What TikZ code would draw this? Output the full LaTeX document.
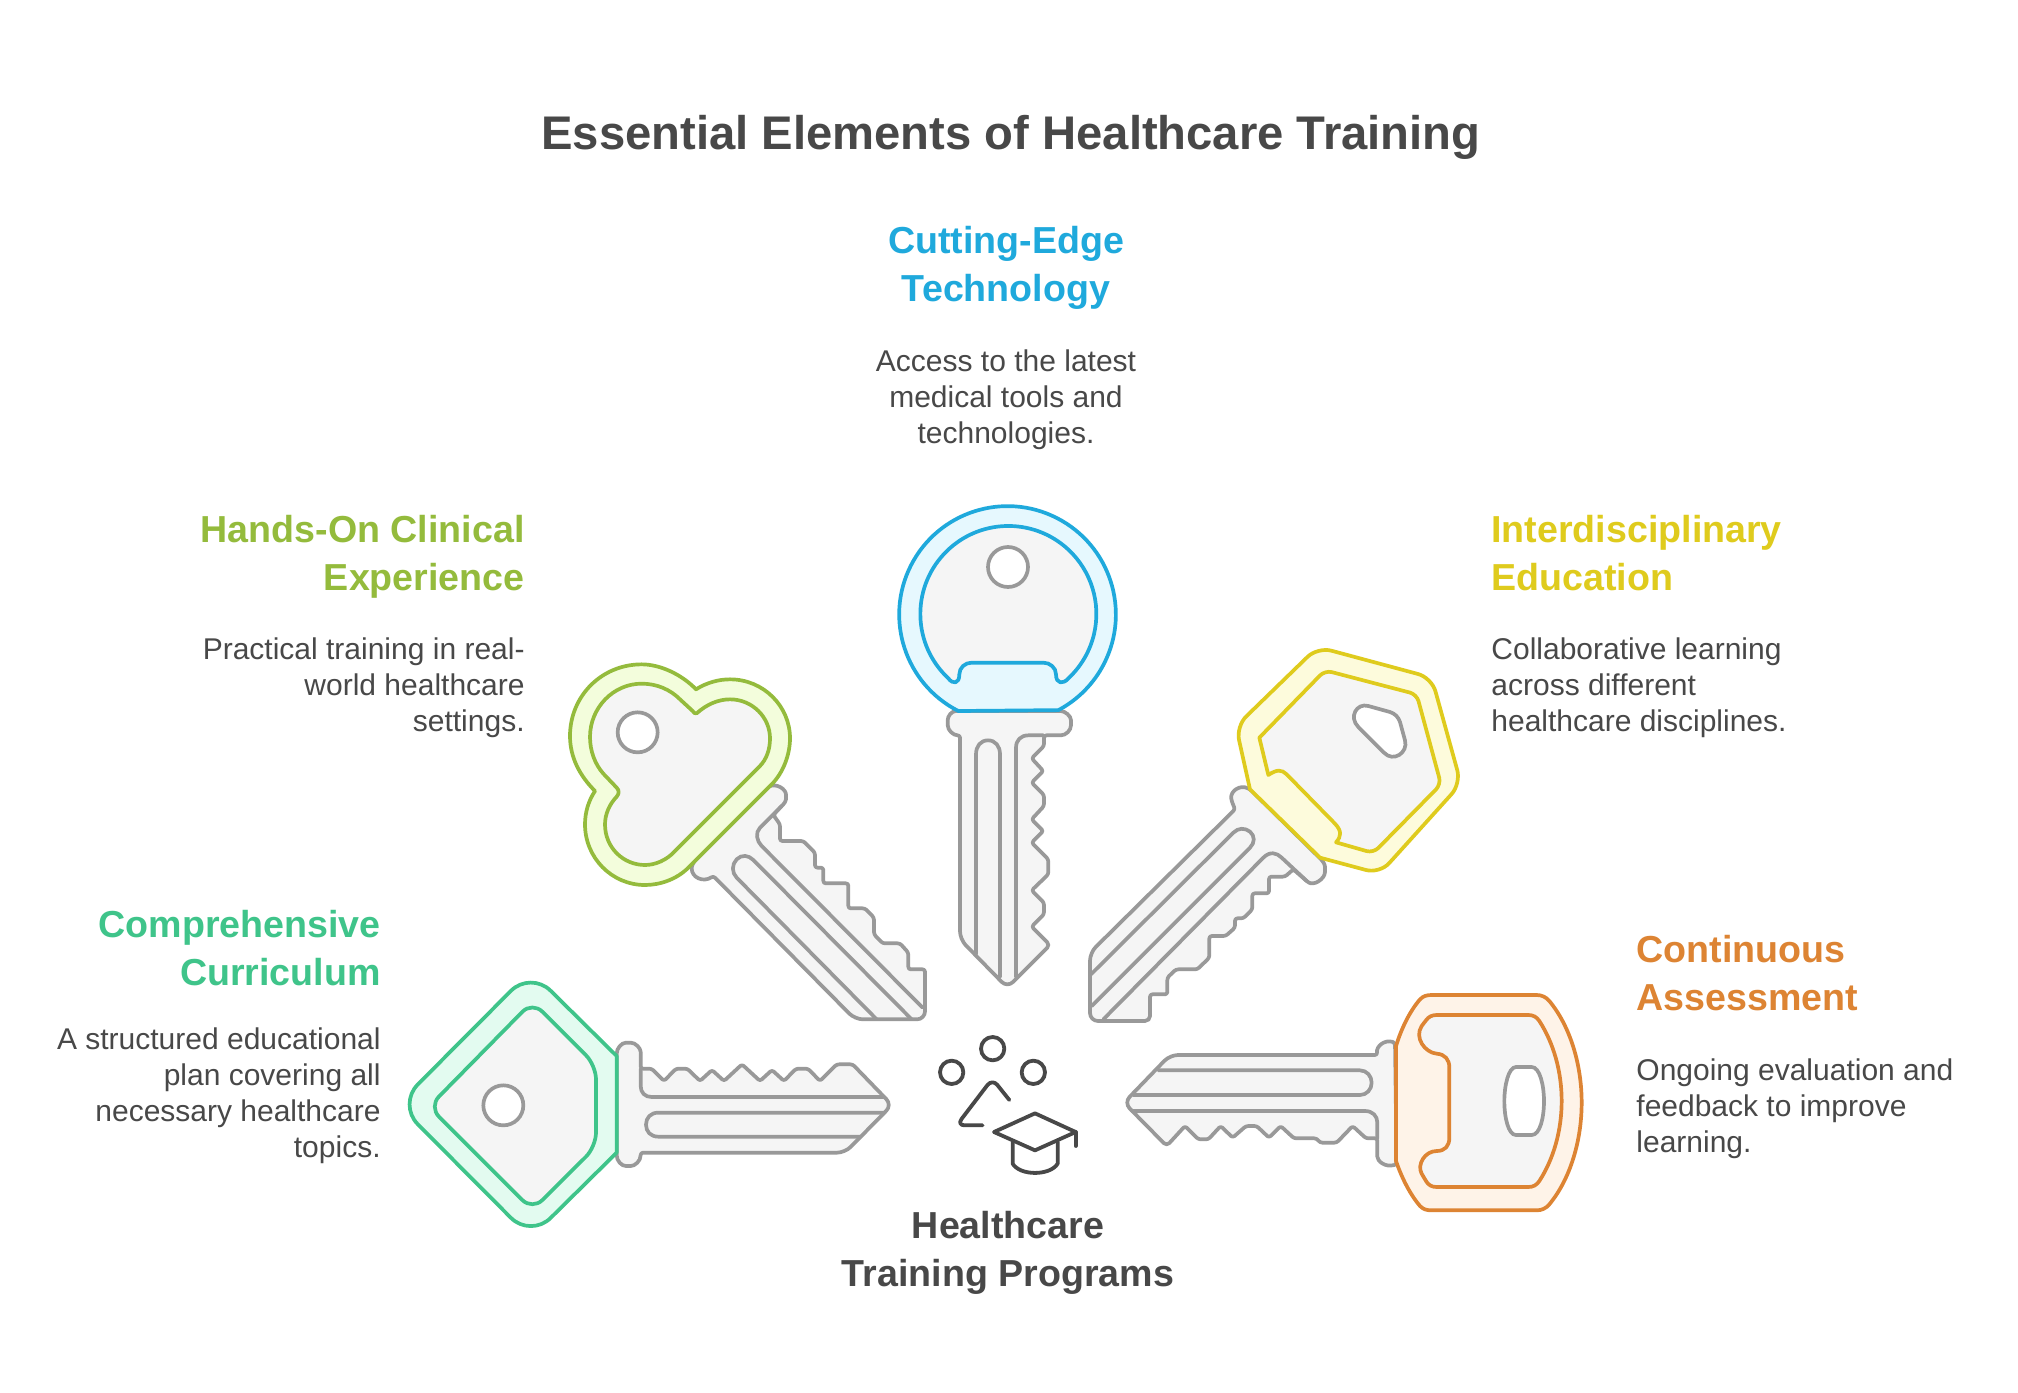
\documentclass[tikz,border=0pt]{standalone}
\usepackage{fontspec}
\setmainfont{Liberation Sans}
\usepackage{xcolor}
\definecolor{inktext}{HTML}{484848}
\definecolor{keygrey}{HTML}{999999}
\definecolor{keyfill}{HTML}{F5F5F5}
\definecolor{blueline}{HTML}{1FA9DC}
\definecolor{bluefill}{HTML}{E6F8FE}
\definecolor{greenline}{HTML}{3FC48A}
\definecolor{greenfill}{HTML}{E3FBF0}
\definecolor{limeline}{HTML}{94BB3C}
\definecolor{limefill}{HTML}{F3FDDC}
\definecolor{yellowline}{HTML}{DFCB1D}
\definecolor{yellowfill}{HTML}{FDFBDC}
\definecolor{orangeline}{HTML}{DD8433}
\definecolor{orangefill}{HTML}{FEF3E8}
\tikzset{
    blade/.style={draw=keygrey, fill=keyfill, line width=1.85pt, line join=round, rounded corners=1.2pt},
    groove/.style={draw=keygrey, line width=1.85pt, line join=round, line cap=round},
    keyhole/.style={draw=keygrey, fill=white, line width=1.85pt},
    headout/.style={draw=#1line, fill=#1fill, line width=1.85pt, line join=round},
    headin/.style={draw=#1line, fill=keyfill, line width=1.85pt, line join=round},
    icon/.style={draw=inktext, line width=1.9pt, line cap=round, line join=round},
    bigtext/.style={inner sep=0pt, text=inktext, font=\fontsize{23.6}{30}\selectfont\bfseries},
    heading/.style={inner sep=0pt, text=#1line, font=\fontsize{18.8}{24}\selectfont\bfseries},
    bodytext/.style={inner sep=0pt, text=inktext, font=\fontsize{15}{18}\selectfont}
}
\begin{document}
\begin{tikzpicture}[x=0.5pt, y=-0.5pt]
    \useasboundingbox (0, 0) rectangle (2018, 1392);
    \fill[white] (0, 0) rectangle (2018, 1392);

    \node[bigtext] (title) at (1011, 137) {Essential Elements of Healthcare Training};

    \node[heading=blue, align=center] (techhead) at (1006, 268) {Cutting-Edge\\Technology};
    \node[bodytext, align=center] (techbody) at (1006, 400) {Access to the latest\\medical tools and\\technologies.};

    \node[heading=lime, align=right, anchor=east] (handshead) at (525, 556.5) {Hands-On Clinical\\Experience};
    \node[bodytext, align=right, anchor=east] (handsbody) at (525, 688) {Practical training in real-\\world healthcare\\settings.};

    \node[heading=yellow, align=left, anchor=west] (interhead) at (1491, 553.5) {Interdisciplinary\\Education};
    \node[bodytext, align=left, anchor=west] (interbody) at (1491, 688) {Collaborative learning\\across different\\healthcare disciplines.};

    \node[heading=green, align=right, anchor=east] (currhead) at (381, 948.5) {Comprehensive\\Curriculum};
    \node[bodytext, align=right, anchor=east] (currbody) at (381, 1096) {A structured educational\\plan covering all\\necessary healthcare\\topics.};

    \node[heading=orange, align=left, anchor=west] (assesshead) at (1636, 973.5) {Continuous\\Assessment};
    \node[bodytext, align=left, anchor=west] (assessbody) at (1636, 1108.5) {Ongoing evaluation and\\feedback to improve\\learning.};

    \node[heading=blue, text=inktext, align=center] (centre) at (1008, 1253) {Healthcare\\Training Programs};

    % top key
    \begin{scope}[shift={(880, 491)}, scale=1/3]
        \draw[blade] (235, 660) .. controls (215, 660) and (203, 675) .. (203, 695) .. controls (203, 718) and (220, 733) .. (240, 733)
            [rounded corners=4pt] -- (240, 1345) [rounded corners=4pt] -- (382, 1490) [rounded corners=2pt] -- (510, 1362) [rounded corners=1.2pt] -- (455, 1307) -- (492, 1270) -- (492, 1235) -- (455, 1198)
            -- (505, 1150) -- (505, 1105) -- (455, 1055) -- (490, 1020) -- (455, 985) -- (492, 945) -- (492, 912)
            -- (455, 875) -- (490, 840) -- (455, 802) -- (492, 765) -- (492, 733) -- (535, 733)
            .. controls (558, 733) and (573, 718) .. (573, 695) .. controls (573, 675) and (555, 660) .. (535, 660) -- cycle;
        \draw[groove] (490, 733) -- (445, 733) .. controls (422, 733) and (408, 748) .. (408, 770) -- (408, 1458);
        \draw[groove] (288, 1390) -- (288, 790) .. controls (288, 765) and (302, 748) .. (324, 748) .. controls (346, 748) and (360, 765) .. (360, 790) -- (360, 1458);
        \draw[headout=blue] (235, 660) arc[start angle=117, end angle=422, radius=325] -- cycle;
        \draw[headin=blue] (205, 562) arc[start angle=133, end angle=407, radius=264]
            .. controls (550, 580) and (528, 580) .. (528, 550) .. controls (528, 530) and (510, 515) .. (490, 515)
            -- (275, 515) .. controls (255, 515) and (238, 530) .. (238, 550) .. controls (238, 580) and (218, 580) .. cycle;
        \draw[keyhole] (384, 228) circle[radius=60];
    \end{scope}

    % left key
    \begin{scope}[shift={(400, 971)}, scale=1/3]
        \draw[blade] (650, 255) .. controls (650, 232) and (665, 215) .. (685, 215) .. controls (707, 215) and (722, 232) .. (722, 250)
            -- (722, 293) -- (755, 293) -- (792, 330) -- (828, 293) -- (862, 293) -- (900, 330) -- (936, 297) -- (972, 330)
            -- (1026, 280) -- (1080, 330) -- (1116, 297) -- (1152, 330) -- (1188, 293) -- (1224, 293) -- (1260, 330)
            -- (1310, 280) -- (1358, 280) [rounded corners=4pt] -- (1476, 402) [rounded corners=4pt] -- (1335, 545) [rounded corners=1.2pt] -- (722, 545)
            .. controls (722, 570) and (705, 585) .. (685, 585) .. controls (665, 585) and (650, 570) .. (650, 545) -- cycle;
        \draw[groove] (722, 293) -- (722, 345) .. controls (722, 365) and (735, 378) .. (755, 378) -- (1450, 378);
        \draw[groove] (1455, 425) -- (775, 425) .. controls (752, 425) and (738, 440) .. (738, 461) .. controls (738, 482) and (752, 497) .. (775, 497) -- (1380, 497);
        \draw[headout=green] (650, 255) [rounded corners=14pt] -- (392, 0) -- (-6, 400) -- (392, 800) [sharp corners] -- (650, 545) -- cycle;
        \draw[headin=green, rounded corners=7pt] (397, 92) -- (87, 407) -- (397, 717) -- (588, 527) -- (588, 283) -- cycle;
        \draw[keyhole] (310, 403) circle[radius=60];
    \end{scope}

    % right key
    \begin{scope}[shift={(1120, 971)}, scale=1/3]
        \draw[blade] (825, 215) .. controls (795, 205) and (768, 225) .. (772, 252) [rounded corners=4pt] -- (150, 252) [rounded corners=4pt] -- (12, 395) [rounded corners=2pt] -- (140, 525) [rounded corners=1.2pt]
            -- (195, 465) -- (235, 505) -- (265, 505) -- (302, 465) -- (338, 500) -- (378, 465) -- (410, 465) -- (447, 500)
            -- (482, 465) -- (522, 502) -- (590, 502) -- (600, 515) -- (650, 515) -- (698, 465) -- (738, 502) -- (772, 502)
            -- (772, 550) .. controls (772, 570) and (795, 590) .. (830, 580) -- cycle;
        \draw[groove] (772, 502) -- (772, 455) .. controls (772, 435) and (758, 420) .. (735, 420) -- (35, 420);
        \draw[groove] (40, 372) -- (720, 372) .. controls (740, 372) and (755, 355) .. (755, 335) .. controls (755, 315) and (740, 298) .. (720, 298) -- (115, 298);
        \draw[headout=orange] (828, 225) .. controls (845, 170) and (870, 120) .. (900, 85) .. controls (910, 75) and (920, 72) .. (935, 72)
            -- (1250, 72) .. controls (1265, 72) and (1278, 78) .. (1288, 90) .. controls (1350, 165) and (1385, 280) .. (1385, 395)
            .. controls (1385, 510) and (1350, 625) .. (1288, 700) .. controls (1278, 712) and (1265, 718) .. (1250, 718)
            -- (935, 718) .. controls (920, 718) and (910, 715) .. (900, 705) .. controls (870, 670) and (845, 620) .. (828, 570) -- cycle;
        \draw[headin=orange] (950, 132) -- (1225, 132) .. controls (1240, 132) and (1250, 138) .. (1258, 150)
            .. controls (1300, 215) and (1325, 300) .. (1325, 390) .. controls (1325, 480) and (1300, 565) .. (1258, 630)
            .. controls (1250, 642) and (1240, 648) .. (1225, 648) -- (950, 648) .. controls (935, 648) and (925, 642) .. (918, 630)
            -- (905, 608) .. controls (890, 580) and (915, 540) .. (950, 540) .. controls (975, 540) and (988, 525) .. (988, 500)
            -- (988, 290) .. controls (988, 265) and (975, 250) .. (950, 248) .. controls (915, 245) and (882, 200) .. (905, 165)
            -- (918, 148) .. controls (925, 138) and (935, 132) .. cycle;
        \draw[keyhole] (1188, 288) -- (1235, 288) .. controls (1260, 288) and (1272, 345) .. (1272, 390)
            .. controls (1272, 440) and (1260, 492) .. (1235, 492) -- (1188, 492) .. controls (1165, 492) and (1153, 440) .. (1153, 390)
            .. controls (1153, 345) and (1165, 288) .. cycle;
    \end{scope}

    % upper left key
    \begin{scope}[shift={(560, 651)}, scale=1/3]
        \draw[blade] (620, 410) .. controls (650, 395) and (678, 415) .. (678, 438) .. controls (678, 450) and (672, 458) .. (665, 465) -- (640, 492)
            -- (660, 520) -- (660, 570) -- (730, 570) -- (765, 605) -- (765, 650) -- (790, 650) -- (790, 697) -- (865, 697) -- (865, 772)
            -- (915, 772) -- (942, 800) -- (942, 850) -- (968, 877) -- (1020, 877) -- (1045, 905) -- (1045, 955) -- (1095, 955)
            [rounded corners=4pt] -- (1095, 1105) -- (885, 1105) [rounded corners=1.2pt] -- (460, 675) .. controls (430, 695) and (395, 680) .. (395, 645) -- (410, 620) -- cycle;
        \draw[groove] (665, 465) -- (600, 530) .. controls (585, 545) and (590, 570) .. (605, 585) -- (1088, 1070);
        \draw[groove] (950, 1105) -- (530, 680) .. controls (515, 665) and (515, 640) .. (530, 625) .. controls (545, 610) and (565, 612) .. (580, 627) -- (1055, 1105);
        \draw[headout=lime] (408, 115) .. controls (440, 95) and (475, 85) .. (510, 85) .. controls (610, 85) and (690, 165) .. (690, 262)
            .. controls (690, 310) and (670, 365) .. (635, 400) -- (385, 650) .. controls (350, 685) and (300, 702) .. (255, 702)
            .. controls (155, 702) and (75, 620) .. (75, 520) .. controls (75, 485) and (85, 450) .. (105, 420)
            .. controls (60, 375) and (30, 320) .. (30, 255) .. controls (30, 135) and (125, 40) .. (245, 40) .. controls (300, 40) and (365, 70) .. cycle;
        \draw[headin=lime] (410, 187) .. controls (440, 160) and (475, 145) .. (510, 145) .. controls (578, 145) and (630, 200) .. (630, 262)
            .. controls (630, 295) and (620, 325) .. (598, 347) -- (345, 600) .. controls (320, 628) and (285, 642) .. (255, 642)
            .. controls (190, 642) and (135, 590) .. (135, 520) .. controls (135, 490) and (148, 460) .. (170, 437)
            .. controls (178, 428) and (178, 418) .. (170, 410) -- (130, 368) .. controls (105, 340) and (90, 300) .. (90, 258)
            .. controls (90, 170) and (160, 98) .. (245, 98) .. controls (290, 98) and (330, 115) .. (360, 145) -- (398, 180) .. controls (403, 187) .. cycle;
        \draw[keyhole] (233, 244) circle[radius=60];
    \end{scope}

    % upper right key
    \begin{scope}[shift={(1080, 641)}, scale=1/3]
        \draw[blade] (510, 445) .. controls (480, 430) and (450, 450) .. (455, 480) -- (465, 505) [rounded corners=4pt] -- (30, 935) -- (30, 1140) [rounded corners=2.5pt] -- (210, 1140) [rounded corners=1.2pt]
            -- (210, 1060) -- (262, 1060) -- (262, 1010) -- (288, 985) -- (352, 985) -- (388, 950) -- (388, 885) -- (437, 885)
            -- (465, 860) -- (465, 832) -- (490, 832) -- (517, 805) -- (517, 757) -- (567, 757) -- (567, 707) -- (615, 707) -- (640, 685)
            -- (680, 720) .. controls (700, 735) and (735, 715) .. (735, 685) .. controls (735, 670) and (728, 660) .. (718, 650) -- cycle;
        \draw[groove] (70, 1135) -- (550, 650) .. controls (570, 630) and (590, 635) .. (605, 650) -- (680, 720);
        \draw[groove] (33, 1000) -- (460, 575) .. controls (475, 560) and (495, 560) .. (510, 572) .. controls (525, 585) and (525, 605) .. (510, 620) -- (35, 1095);
        \draw[headout=yellow, rounded corners=7pt] (713, 18) -- (1055, 110) -- (1143, 428) -- (899, 698) [sharp corners] -- (720, 650) -- (510, 445) [rounded corners=7pt] -- (468, 256) -- cycle;
        \draw[headin=yellow, rounded corners=3.5pt] (735, 88) -- (1010, 160) -- (1083, 430) -- (880, 636) [sharp corners] -- (768, 604)
            .. controls (785, 585) and (785, 570) .. (765, 548) -- (620, 400) .. controls (605, 385) and (590, 385) .. (565, 402) -- (538, 290) [rounded corners=3.5pt] -- cycle;
        \draw[keyhole] (865, 195) -- (930, 213) .. controls (945, 218) and (955, 228) .. (960, 243) -- (975, 298)
            .. controls (985, 335) and (940, 365) .. (912, 335) -- (835, 258) .. controls (805, 228) and (830, 185) .. cycle;
    \end{scope}

    % graduation icon
    \begin{scope}[shift={(930, 1031)}, scale=1/3]
        \draw[icon] (188, 53) circle[radius=35];
        \draw[icon] (65, 124) circle[radius=35];
        \draw[icon] (310, 124) circle[radius=35];
        \draw[icon, rounded corners=4pt] (238, 207) -- (187, 143) -- (80, 283) -- (158, 283);
        \draw[icon] (315, 247) -- (437, 303) -- (315, 358) -- (192, 303) -- cycle;
        \draw[icon] (437, 303) -- (437, 345);
        \draw[icon] (248, 333) -- (248, 398) .. controls (270, 435) and (360, 435) .. (383, 398) -- (383, 333);
    \end{scope}
\end{tikzpicture}
\end{document}
